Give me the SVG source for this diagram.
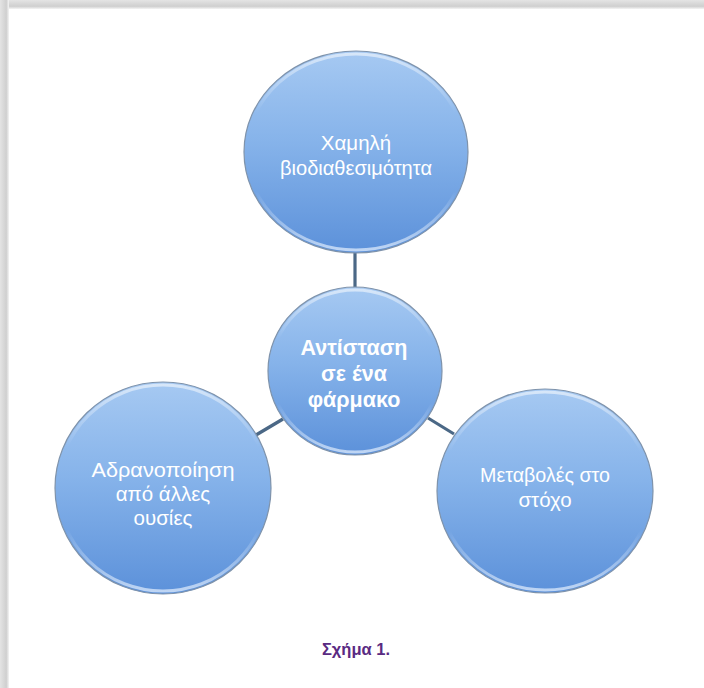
<svg xmlns="http://www.w3.org/2000/svg" width="704" height="688" viewBox="0 0 704 688">
  <style>
    .node { fill: url(#ball); stroke: #7f93ab; stroke-width: 1.2; }
    .rim { fill: none; stroke: url(#rimGrad); stroke-width: 3; }
    .t { font-family: "Liberation Sans", Arial, sans-serif; fill: #ffffff; text-anchor: middle; }
    .lbl { font-size: 20.5px; }
    .main { font-size: 21.5px; font-weight: bold; }
    .conn { stroke: #4b6886; stroke-width: 3.2; fill: none; }
    .cap { font-family: "Liberation Sans", Arial, sans-serif; font-size: 16.5px; font-weight: bold; fill: #5a2a82; text-anchor: middle; }
  </style>
  <defs>
    <linearGradient id="ball" x1="0" y1="0" x2="0" y2="1">
      <stop offset="0" stop-color="#a6c9f2"/>
      <stop offset="0.45" stop-color="#86b3ea"/>
      <stop offset="1" stop-color="#5c91da"/>
    </linearGradient>
    <linearGradient id="rimGrad" x1="0" y1="0" x2="0" y2="1">
      <stop offset="0" stop-color="#ffffff" stop-opacity="0.55"/>
      <stop offset="0.3" stop-color="#ffffff" stop-opacity="0"/>
      <stop offset="0.7" stop-color="#ffffff" stop-opacity="0"/>
      <stop offset="1" stop-color="#e8f2ff" stop-opacity="0.7"/>
    </linearGradient>
    <linearGradient id="shTop" x1="0" y1="0" x2="0" y2="1">
      <stop offset="0" stop-color="#e4e4e4"/>
      <stop offset="0.7" stop-color="#cfcfcf"/>
      <stop offset="1" stop-color="#f4f4f4"/>
    </linearGradient>
    <linearGradient id="shLeft" x1="0" y1="0" x2="1" y2="0">
      <stop offset="0" stop-color="#e4e4e4"/>
      <stop offset="0.7" stop-color="#cfcfcf"/>
      <stop offset="1" stop-color="#f4f4f4"/>
    </linearGradient>
  </defs>

  <rect x="0" y="0" width="704" height="688" fill="#ffffff"/>
  <rect x="0" y="0" width="704" height="9" fill="url(#shTop)"/>
  <rect x="0" y="0" width="9" height="688" fill="url(#shLeft)"/>

  <g id="connectors">
    <line class="conn" x1="355" y1="252" x2="355" y2="289"/>
    <line class="conn" x1="283" y1="419" x2="256" y2="435"/>
    <line class="conn" x1="428" y1="418" x2="454" y2="434"/>
  </g>

  <g id="node-top">
    <ellipse class="node" cx="356" cy="152" rx="112" ry="101"/>
    <ellipse class="rim" cx="356" cy="152" rx="109" ry="98"/>
    <text class="t lbl" x="356" y="150">Χαμηλή</text>
    <text class="t lbl" x="356" y="175" textLength="152" lengthAdjust="spacingAndGlyphs">βιοδιαθεσιμότητα</text>
  </g>

  <g id="node-center">
    <ellipse class="node" cx="355" cy="371" rx="87" ry="84"/>
    <ellipse class="rim" cx="355" cy="371" rx="84" ry="81"/>
    <text class="t main" x="354" y="355">Αντίσταση</text>
    <text class="t main" x="354" y="381">σε ένα</text>
    <text class="t main" x="354" y="407">φάρμακο</text>
  </g>

  <g id="node-left">
    <ellipse class="node" cx="163" cy="488" rx="108" ry="106"/>
    <ellipse class="rim" cx="163" cy="488" rx="105" ry="103"/>
    <text class="t lbl" x="163" y="477" textLength="143" lengthAdjust="spacingAndGlyphs">Αδρανοποίηση</text>
    <text class="t lbl" x="163" y="501">από άλλες</text>
    <text class="t lbl" x="163" y="525">ουσίες</text>
  </g>

  <g id="node-right">
    <ellipse class="node" cx="545" cy="491" rx="108" ry="102"/>
    <ellipse class="rim" cx="545" cy="491" rx="105" ry="99"/>
    <text class="t lbl" x="545" y="482" textLength="130" lengthAdjust="spacingAndGlyphs">Μεταβολές στο</text>
    <text class="t lbl" x="545" y="507">στόχο</text>
  </g>

  <text class="cap" x="356" y="655">Σχήμα 1.</text>
</svg>
